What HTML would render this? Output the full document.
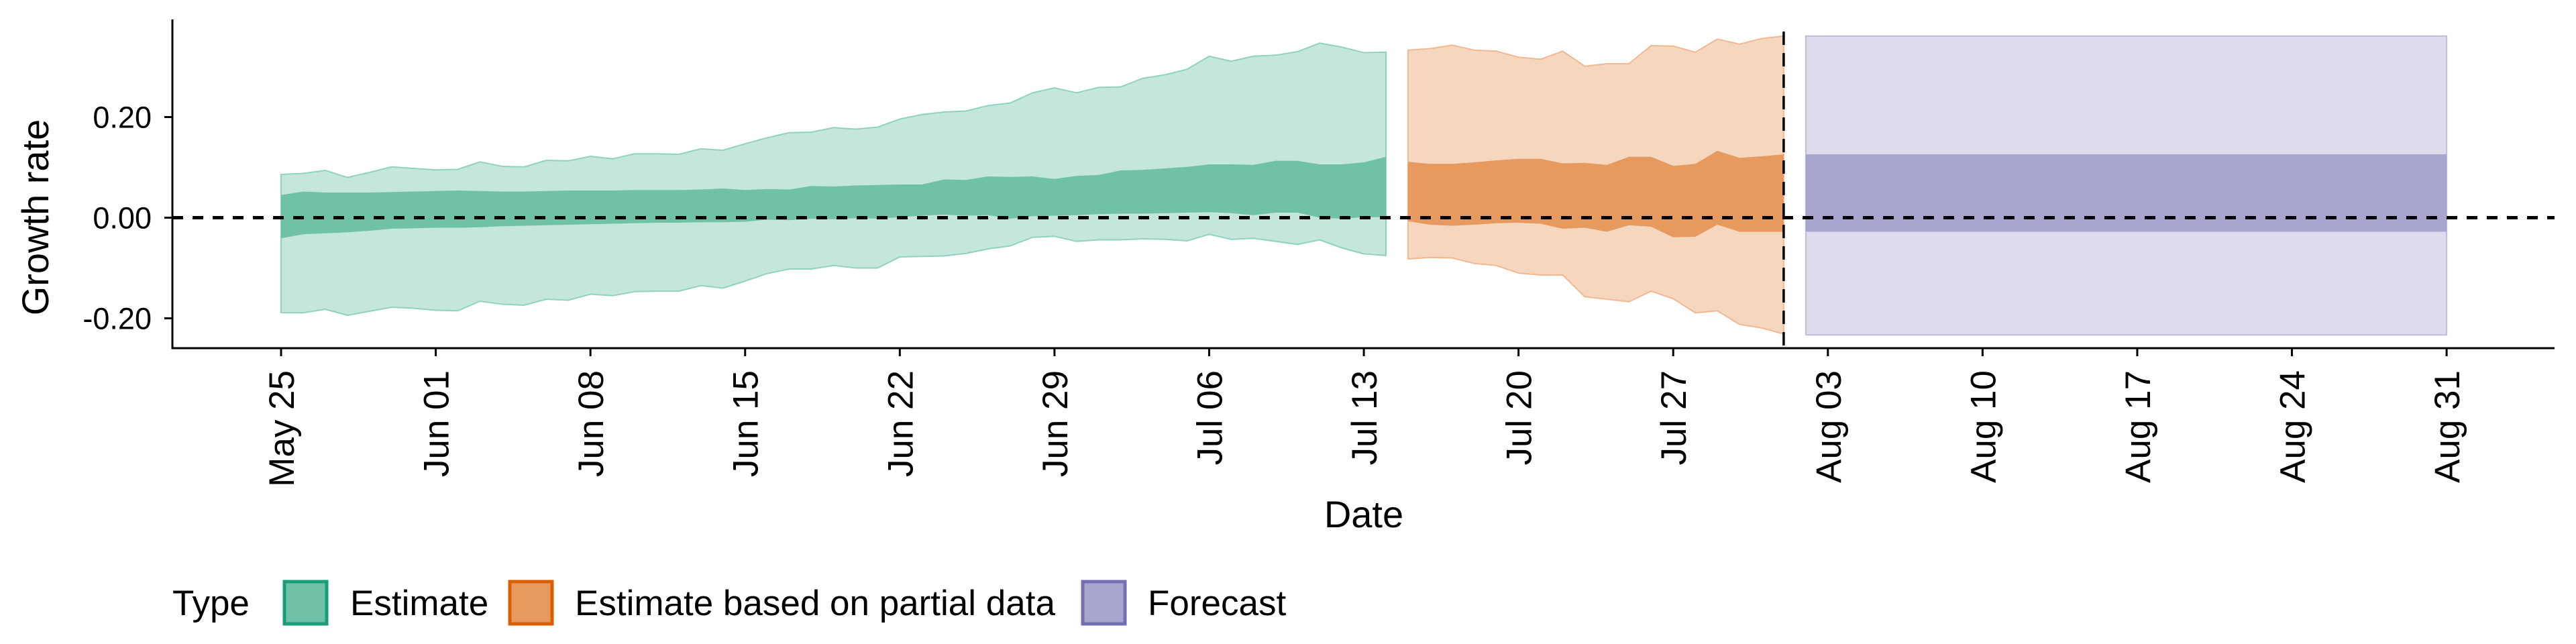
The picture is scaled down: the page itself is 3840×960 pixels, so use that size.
<!DOCTYPE html>
<html><head><meta charset="utf-8"><style>
html,body{margin:0;padding:0;background:#fff;}
svg{display:block;font-family:"Liberation Sans",sans-serif;}
</style></head><body>
<svg id="chart" width="3840" height="960" viewBox="0 0 3840 960" xmlns="http://www.w3.org/2000/svg">
<g id="plot"></g>
<g id="axes"></g>
<text x="0" y="0" font-size="56" text-anchor="middle" transform="translate(72,324) rotate(-90)">Growth rate</text>
<text x="2033" y="786" font-size="56" text-anchor="middle">Date</text>
<g>
<text x="257" y="917" font-size="53">Type</text>
<rect x="424" y="867" width="63" height="63" fill="#6fc1a7" stroke="#1b9e77" stroke-width="5"/>
<text x="522" y="917" font-size="53">Estimate</text>
<rect x="760" y="867" width="63" height="63" fill="#e69a5f" stroke="#d95f02" stroke-width="5"/>
<text x="857" y="917" font-size="53">Estimate based on partial data</text>
<rect x="1614" y="867" width="63" height="63" fill="#a8a6cf" stroke="#7570b3" stroke-width="5"/>
<text x="1711" y="917" font-size="53">Forecast</text>
</g>
</svg>
<script>
const estStart = "2020-05-25";
const estUpper90 = [0.086,0.088,0.094,0.080,0.090,0.101,0.098,0.095,0.096,0.111,0.102,0.101,0.114,0.113,0.122,0.117,0.127,0.127,0.126,0.137,0.134,0.147,0.159,0.169,0.170,0.179,0.176,0.180,0.196,0.205,0.210,0.212,0.223,0.228,0.248,0.258,0.248,0.259,0.260,0.277,0.284,0.295,0.321,0.311,0.321,0.323,0.330,0.347,0.339,0.328,0.329];
const estLower90 = [-0.189,-0.189,-0.182,-0.194,-0.186,-0.178,-0.180,-0.184,-0.185,-0.166,-0.172,-0.174,-0.162,-0.164,-0.152,-0.155,-0.147,-0.146,-0.146,-0.135,-0.140,-0.126,-0.111,-0.102,-0.102,-0.095,-0.100,-0.100,-0.078,-0.077,-0.076,-0.071,-0.062,-0.056,-0.039,-0.037,-0.047,-0.044,-0.044,-0.042,-0.043,-0.046,-0.033,-0.043,-0.041,-0.047,-0.053,-0.044,-0.060,-0.072,-0.075];
const estUpper50 = [0.045,0.052,0.050,0.050,0.050,0.051,0.052,0.053,0.054,0.053,0.052,0.052,0.053,0.054,0.054,0.054,0.055,0.055,0.055,0.056,0.058,0.055,0.057,0.056,0.063,0.062,0.064,0.065,0.066,0.066,0.076,0.075,0.082,0.081,0.082,0.077,0.083,0.085,0.094,0.095,0.098,0.101,0.106,0.106,0.105,0.113,0.113,0.106,0.106,0.110,0.121];
const estLower50 = [-0.041,-0.033,-0.031,-0.029,-0.026,-0.022,-0.021,-0.020,-0.020,-0.019,-0.017,-0.016,-0.015,-0.014,-0.013,-0.012,-0.011,-0.010,-0.010,-0.009,-0.009,-0.008,-0.004,-0.005,-0.002,-0.003,-0.001,-0.002,0.001,0.004,0.006,0.004,0.005,-0.002,0.003,0.004,0.005,0.007,0.008,0.008,0.009,0.010,0.011,0.009,0.005,0.010,0.010,0.000,-0.002,0.001,0.001];
const partStart = "2020-07-15";
const partUpper90 = [0.333,0.336,0.343,0.333,0.331,0.319,0.315,0.331,0.301,0.306,0.306,0.342,0.341,0.329,0.355,0.345,0.356,0.361];
const partLower90 = [-0.082,-0.079,-0.080,-0.091,-0.095,-0.110,-0.114,-0.114,-0.157,-0.162,-0.167,-0.146,-0.161,-0.189,-0.185,-0.212,-0.219,-0.231];
const partUpper50 = [0.111,0.107,0.107,0.110,0.114,0.117,0.117,0.108,0.109,0.105,0.121,0.121,0.103,0.107,0.133,0.119,0.122,0.126];
const partLower50 = [-0.007,-0.014,-0.016,-0.014,-0.011,-0.010,-0.012,-0.022,-0.020,-0.028,-0.015,-0.018,-0.039,-0.038,-0.014,-0.028,-0.028,-0.028];
const forecastDates = ["2020-08-02","2020-08-31"];
const forecastUpper90 = [0.361,0.361];
const forecastLower90 = [-0.233,-0.233];
const forecastUpper50 = [0.126,0.126];
const forecastLower50 = [-0.028,-0.028];
const cutoffDate = "2020-08-01";
const yTicks = [-0.2,0,0.2];
const yTickLabels = ["-0.20","0.00","0.20"];
const xTickDates = ["2020-05-25","2020-06-01","2020-06-08","2020-06-15","2020-06-22","2020-06-29","2020-07-06","2020-07-13","2020-07-20","2020-07-27","2020-08-03","2020-08-10","2020-08-17","2020-08-24","2020-08-31"];
const xTickLabels = ["May 25","Jun 01","Jun 08","Jun 15","Jun 22","Jun 29","Jul 06","Jul 13","Jul 20","Jul 27","Aug 03","Aug 10","Aug 17","Aug 24","Aug 31"];

const NS="http://www.w3.org/2000/svg";
const DAY=86400000, T0=Date.parse("2020-05-25");
function xs(d){const t=typeof d==="number"?d:Date.parse(d);return 419+(t-T0)/DAY*32.94;}
function ys(v){return 324.5-v*750;}
const plot=document.getElementById('plot'), axes=document.getElementById('axes');
function mk(tag,attrs,parent){const e=document.createElementNS(NS,tag);for(const k in attrs)e.setAttribute(k,attrs[k]);parent.appendChild(e);return e;}
function dates(start,n){const s=Date.parse(start);return Array.from({length:n},(_,i)=>s+i*DAY);}
function band(ds,up,lo,fill,stroke,name){
  let p="M"+ds.map((d,i)=>xs(d).toFixed(1)+","+ys(up[i]).toFixed(1)).join("L");
  p+="L"+ds.map((d,i)=>[d,i]).reverse().map(([d,i])=>xs(d).toFixed(1)+","+ys(lo[i]).toFixed(1)).join("L")+"Z";
  const e=mk('path',{d:p,fill:fill,stroke:stroke||'none','stroke-width':2},plot);
  
  
}
const ed=dates(estStart,estUpper90.length), pd=dates(partStart,partUpper90.length), fd=forecastDates.map(d=>Date.parse(d));
band(ed,estUpper90,estLower90,'#c4e6dc','#8fd3bd','estimate-90-band');
band(ed,estUpper50,estLower50,'#6fc1a7',null,'estimate-50-band');
band(pd,partUpper90,partLower90,'#f5d6bf','#f2b891','partial-90-band');
band(pd,partUpper50,partLower50,'#e69a5f',null,'partial-50-band');
band(fd,forecastUpper90,forecastLower90,'#dbdbeb','#bdbbdd','forecast-90-band');
band(fd,forecastUpper50,forecastLower50,'#a8a6cf',null,'forecast-50-band');
let z=mk('line',{x1:257,x2:3808,y1:ys(0),y2:ys(0),stroke:'#000','stroke-width':5,'stroke-dasharray':'16 14'},plot);


let c=mk('line',{x1:xs(cutoffDate),x2:xs(cutoffDate),y1:47,y2:519,stroke:'#000','stroke-width':3.5,'stroke-dasharray':'20 12'},plot);


let ya=mk('line',{x1:257,x2:257,y1:29,y2:520.5,stroke:'#000','stroke-width':3},axes);


let xa=mk('line',{x1:255.5,x2:3808,y1:519,y2:519,stroke:'#000','stroke-width':3},axes);


yTicks.forEach((v,i)=>{
  const t=mk('line',{x1:245,x2:257,y1:ys(v),y2:ys(v),stroke:'#000','stroke-width':3},axes);
  
  
  const l=mk('text',{x:226,y:ys(v)+16,'font-size':45,'text-anchor':'end',fill:'#000'},axes);
  l.textContent=yTickLabels[i];
  
  
});
xTickDates.forEach((d,i)=>{
  const x=xs(d);
  const t=mk('line',{x1:x,x2:x,y1:519,y2:531,stroke:'#000','stroke-width':3},axes);
  
  
  const l=mk('text',{x:0,y:0,'font-size':53,'text-anchor':'end',fill:'#000',transform:`translate(${(x+19).toFixed(1)},552) rotate(-90)`},axes);
  l.textContent=xTickLabels[i];
  
  
});
</script>
</body></html>
